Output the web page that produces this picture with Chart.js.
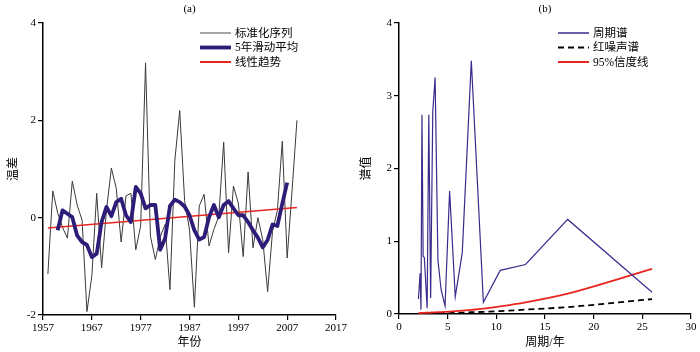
<!DOCTYPE html>
<html>
<head>
<meta charset="utf-8">
<script src="https://cdn.jsdelivr.net/npm/chart.js@4.4.1/dist/chart.umd.min.js"></script>
<style>
    body { margin: 0; background: #fff; }
    .panel { position: absolute; top: 0; width: 350px; height: 352px; }
</style>
</head>
<body>
<div class="panel" style="left:0"><canvas id="chartA" width="350" height="352"></canvas></div>
<div class="panel" style="left:350px"><canvas id="chartB" width="350" height="352"></canvas></div>
<script>
// Panel (a): standardized series, 5-year running mean, linear trend
const years = [1958, 1959, 1960, 1961, 1962, 1963, 1964, 1965, 1966, 1967, 1968, 1969, 1970,
    1971, 1972, 1973, 1974, 1975, 1976, 1977, 1978, 1979, 1980, 1981, 1982, 1983, 1984, 1985,
    1986, 1987, 1988, 1989, 1990, 1991, 1992, 1993, 1994, 1995, 1996, 1997, 1998, 1999, 2000,
    2001, 2002, 2003, 2004, 2005, 2006, 2007, 2008, 2009];
const seriesValues = [-1.16, 0.55, 0.10, -0.20, -0.42, 0.75, 0.26, -0.05, -1.93, -1.20, 0.50, -1.03, 0.15,
    1.02, 0.60, -0.50, 0.45, 0.50, -0.66, -0.17, 3.18, -0.38, -0.86, -0.40, -0.14, -1.48, 1.18, 2.20,
    0.35, -0.25, -1.84, 0.24, 0.48, -0.58, -0.24, 0.03, 1.55, -0.72, 0.65, 0.30, -0.80, 0.94, -0.62,
    0.00, -0.45, -1.52, -0.28, 0.15, 1.57, -0.83, 0.55, 2.00];
const smoothYears = [1960, 1961, 1962, 1963, 1964, 1965, 1966, 1967, 1968, 1969, 1970, 1971, 1972,
    1973, 1974, 1975, 1976, 1977, 1978, 1979, 1980, 1981, 1982, 1983, 1984, 1985, 1986, 1987, 1988,
    1989, 1990, 1991, 1992, 1993, 1994, 1995, 1996, 1997, 1998, 1999, 2000, 2001, 2002, 2003, 2004,
    2005, 2006, 2007];
const smoothValues = [-0.26, 0.15, 0.08, 0.01, -0.37, -0.50, -0.56, -0.81, -0.74, -0.09, 0.22, 0.03, 0.32,
    0.39, 0.05, -0.09, 0.63, 0.50, 0.19, 0.26, 0.26, -0.66, -0.43, 0.24, 0.37, 0.32, 0.23, 0.05, -0.26,
    -0.45, -0.40, 0.01, 0.26, 0.01, 0.26, 0.34, 0.19, 0.05, 0.05, -0.09, -0.26, -0.41, -0.61, -0.46, -0.14,
    -0.17, 0.29, 0.72];
const trendYears = [1958, 2009];
const trendValues = [-0.21, 0.21];
const yearTicks = [1957, 1967, 1977, 1987, 1997, 2007, 2017];

// Panel (b): periodogram, red noise spectrum, 95% confidence line
const periods = [2, 2.08, 2.17, 2.26, 2.36, 2.48, 2.6, 2.74, 2.89, 3.06, 3.25, 3.47, 3.71, 4,
    4.33, 4.73, 5.2, 5.78, 6.5, 7.43, 8.67, 10.4, 13, 17.33, 26];
const spectrum = [0.205, 0.38, 0.56, 0.06, 2.74, 0.79, 0.78, 0.45, 0.08, 2.74, 0.22, 2.78, 3.25, 0.74,
    0.33, 0.11, 1.69, 0.24, 0.84, 3.48, 0.16, 0.60, 0.68, 1.30, 0.30];
const redNoise = [0.003, 0.004, 0.004, 0.004, 0.004, 0.005, 0.005, 0.005, 0.006, 0.006, 0.007, 0.007, 0.008,
    0.009, 0.010, 0.011, 0.013, 0.016, 0.019, 0.024, 0.030, 0.040, 0.060, 0.095, 0.205];
const confidence95 = [0.013, 0.013, 0.014, 0.014, 0.015, 0.015, 0.016, 0.017, 0.018, 0.019, 0.020, 0.021,
    0.023, 0.025, 0.027, 0.030, 0.034, 0.040, 0.047, 0.058, 0.075, 0.105, 0.160, 0.280, 0.620];

const FONT = '"Liberation Serif", "Noto Sans CJK SC", serif';

function toPoints(xs, ys) {
    return xs.map((x, i) => ({ x: x, y: ys[i] }));
}

/**
 * Draws the panel label above the plot and the legend in its top-right corner
 */
const panelDecor = {
    id: 'panelDecor',
    afterDraw(chart, args, opts) {
        const { ctx, chartArea } = chart;
        ctx.save();
        ctx.fillStyle = '#000';
        ctx.font = '11px ' + FONT;
        ctx.textAlign = 'center';
        ctx.textBaseline = 'middle';
        ctx.fillText(opts.label, (chartArea.left + chartArea.right) / 2, chartArea.top - 14);

        ctx.textAlign = 'left';
        ctx.font = '11.5px ' + FONT;
        chart.data.datasets.forEach((ds, i) => {
            let y = chartArea.top + 10 + i * 14.5;
            ctx.beginPath();
            ctx.strokeStyle = ds.legendColor || ds.borderColor;
            ctx.lineWidth = ds.legendWidth || ds.borderWidth;
            ctx.setLineDash(ds.borderDash || []);
            ctx.moveTo(chartArea.left + opts.lineX, y);
            ctx.lineTo(chartArea.left + opts.lineX + 31, y);
            ctx.stroke();
            ctx.setLineDash([]);
            ctx.fillText(ds.label, chartArea.left + opts.lineX + 35, y + 0.5);
        });
        ctx.restore();
    }
};

function axisCommon(extra) {
    return Object.assign({
        type: 'linear',
        border: { display: true, color: '#000', width: 1.5 },
        grid: { display: true, drawOnChartArea: false, drawTicks: true, tickLength: 5, color: '#000', lineWidth: 1.2 },
        ticks: { color: '#000', font: { family: FONT, size: 11 }, padding: 2 },
        title: { display: true, color: '#000', font: { family: FONT, size: 12 } }
    }, extra);
}

new Chart(document.getElementById('chartA'), {
    type: 'line',
    data: {
        datasets: [{
            label: '标准化序列',
            data: toPoints(years, seriesValues),
            borderColor: '#3a3a3a',
            legendColor: '#888',
            legendWidth: 1.5,
            borderWidth: 1,
            pointRadius: 0,
            order: 3
        }, {
            label: '5年滑动平均',
            data: toPoints(smoothYears, smoothValues),
            borderColor: '#2f1c78',
            borderWidth: 3.8,
            borderJoinStyle: 'round',
            pointRadius: 0,
            order: 1
        }, {
            label: '线性趋势',
            data: toPoints(trendYears, trendValues),
            borderColor: '#e8261f',
            borderWidth: 1.5,
            legendWidth: 2,
            pointRadius: 0,
            order: 2
        }]
    },
    options: {
        responsive: false,
        animation: false,
        layout: { padding: { top: 23, right: 14, left: 0, bottom: 0 } },
        plugins: {
            legend: { display: false },
            tooltip: { enabled: false },
            panelDecor: { label: '(a)', lineX: 157 }
        },
        scales: {
            x: axisCommon({
                min: 1957,
                max: 2017,
                afterBuildTicks: (scale) => { scale.ticks = yearTicks.map(v => ({ value: v })); },
                afterFit: (scale) => { scale.height = 37; },
                ticks: { color: '#000', font: { family: FONT, size: 11 }, padding: 2, maxRotation: 0,
                    callback: (value) => String(value) },
                title: { display: true, text: '年份', color: '#000', font: { family: FONT, size: 12 }, padding: { top: 0, bottom: 2 } }
            }),
            y: axisCommon({
                min: -2,
                max: 4,
                ticks: { color: '#000', font: { family: FONT, size: 11 }, padding: 2, stepSize: 2 },
                afterFit: (scale) => { scale.width = 43; },
                title: { display: true, text: '温差', color: '#000', font: { family: FONT, size: 12 }, padding: { top: 7, bottom: 0 } }
            })
        }
    },
    plugins: [panelDecor]
});

new Chart(document.getElementById('chartB'), {
    type: 'line',
    data: {
        datasets: [{
            label: '周期谱',
            data: toPoints(periods, spectrum),
            borderColor: '#3b2a8c',
            borderWidth: 1.2,
            legendWidth: 1.5,
            pointRadius: 0,
            order: 1
        }, {
            label: '红噪声谱',
            data: toPoints(periods, redNoise),
            borderColor: '#000',
            borderWidth: 1.8,
            legendWidth: 2,
            borderDash: [6, 4],
            cubicInterpolationMode: 'monotone',
            pointRadius: 0,
            order: 3
        }, {
            label: '95%信度线',
            data: toPoints(periods, confidence95),
            borderColor: '#e8261f',
            borderWidth: 1.8,
            legendWidth: 2,
            cubicInterpolationMode: 'monotone',
            pointRadius: 0,
            order: 2
        }]
    },
    options: {
        responsive: false,
        animation: false,
        layout: { padding: { top: 23, right: 9, left: 0, bottom: 0 } },
        plugins: {
            legend: { display: false },
            tooltip: { enabled: false },
            panelDecor: { label: '(b)', lineX: 159 }
        },
        scales: {
            x: axisCommon({
                min: 0,
                max: 30,
                afterFit: (scale) => { scale.height = 38; },
                ticks: { color: '#000', font: { family: FONT, size: 11 }, padding: 2, stepSize: 5, maxRotation: 0 },
                title: { display: true, text: '周期/年', color: '#000', font: { family: FONT, size: 12 }, padding: { top: 0, bottom: 2 } }
            }),
            y: axisCommon({
                min: 0,
                max: 4,
                ticks: { color: '#000', font: { family: FONT, size: 11 }, padding: 2, stepSize: 1 },
                afterFit: (scale) => { scale.width = 49; },
                title: { display: true, text: '谱值', color: '#000', font: { family: FONT, size: 12 }, padding: { top: 10, bottom: 0 } }
            })
        }
    },
    plugins: [panelDecor]
});
</script>
</body>
</html>
